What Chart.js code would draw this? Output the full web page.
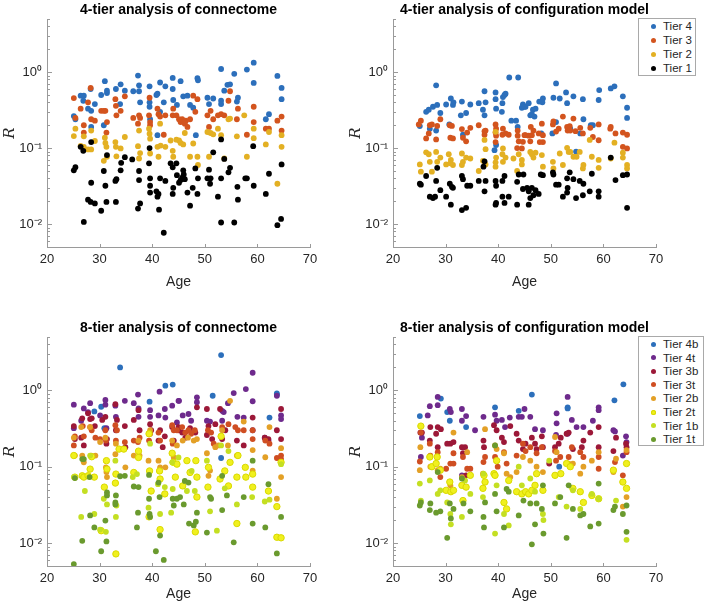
<!DOCTYPE html>
<html>
<head>
<meta charset="utf-8">
<script src="https://cdn.jsdelivr.net/npm/chart.js@4.4.0/dist/chart.umd.min.js"></script>
<style>
  body { margin: 0; background: #fff; width: 705px; height: 604px; position: relative; overflow: hidden;
         font-family: "Liberation Sans", Arial, sans-serif; }
  canvas { position: absolute; }
  .legend { position: absolute; border: 1px solid #a9a9a9; background: #fff; font-size: 11.5px; color: #262626; }
  .legend div { position: absolute; left: 0; height: 14px; line-height: 14px; white-space: nowrap; }
  .legend i { position: absolute; width: 5px; height: 5px; border-radius: 50%; left: 12px; top: 4.5px; }
  .legend span { position: absolute; left: 24px; }
</style>
</head>
<body>
<canvas id="c1" width="346" height="300" style="left:0;top:0"></canvas>
<canvas id="c2" width="359" height="300" style="left:346px;top:0"></canvas>
<canvas id="c3" width="346" height="286" style="left:0;top:318px"></canvas>
<canvas id="c4" width="359" height="286" style="left:346px;top:318px"></canvas>
<div id="leg1" class="legend" style="left:638px;top:18px;width:56px;height:56px"></div>
<div id="leg2" class="legend" style="left:638px;top:336px;width:64px;height:108px"></div>

<script>
// axis ticks
const xTicks = [20, 30, 40, 50, 60, 70];
const yTicks = [0.01, 0.1, 1];
const yTickLabels = ['10⁻²', '10⁻¹', '10⁰'];

// legends
const tiers4 = ['Tier 4', 'Tier 3', 'Tier 2', 'Tier 1'];
const tiers8 = ['Tier 4b', 'Tier 4t', 'Tier 3b', 'Tier 3t', 'Tier 2b', 'Tier 2t', 'Tier 1b', 'Tier 1t'];
const colors4 = ['#2c6fbb', '#d3541e', '#e3b023', '#000000'];
const colors8 = ['#2c6fbb', '#6e2a8c', '#9c1838', '#cf4e22', '#e3a026', '#f0f01e', '#c4df22', '#6a9a2e'];

// ---- 4-tier analysis of connectome: [age, R]
const conn4Tier4 = [[25.1,0.264],[25.4,0.24],[26.4,0.49],[27.0,0.49],[26.9,0.42],[27.8,0.33],[28.4,0.31],[28.4,0.19],[28.3,0.60],[29.1,0.38],[30.3,0.50],[31.0,0.76],[30.8,0.20],[31.4,0.53],[31.4,0.57],[33.1,0.60],[34.0,0.69],[33.9,0.38],[34.8,0.57],[36.4,0.56],[37.3,0.90],[37.5,0.67],[37.5,0.56],[37.7,0.40],[39.5,0.65],[39.5,0.40],[39.5,0.35],[39.6,0.24],[40.8,0.50],[41.0,0.52],[41.5,0.73],[41.0,0.148],[41.5,0.30],[42.2,0.40],[42.5,0.65],[43.9,0.84],[43.9,0.60],[44.0,0.43],[44.7,0.37],[45.4,0.76],[45.9,0.48],[46.7,0.49],[47.2,0.37],[47.8,0.34],[48.6,0.83],[48.7,0.78],[48.3,0.148],[50.5,0.46],[50.8,0.38],[51.6,0.45],[53.1,1.1],[53.1,0.42],[53.1,0.38],[53.7,0.57],[54.3,0.68],[54.8,0.69],[55.6,0.95],[56.1,0.41],[56.3,0.46],[58.0,1.08],[59.3,1.33],[59.3,0.72],[61.6,0.24],[62.2,0.28],[63.8,0.89],[64.6,0.62],[64.6,0.44]];
const conn4Tier3 = [[25.1,0.455],[25.4,0.25],[26.4,0.33],[27.0,0.20],[27.0,0.16],[27.8,0.40],[28.3,0.62],[28.4,0.24],[29.1,0.23],[30.3,0.31],[30.8,0.31],[31.1,0.31],[31.4,0.22],[31.3,0.16],[33.0,0.44],[33.1,0.36],[33.2,0.27],[34.0,0.31],[34.8,0.48],[36.4,0.25],[37.5,0.27],[37.7,0.25],[37.3,0.21],[39.5,0.46],[39.6,0.22],[39.6,0.20],[39.4,0.27],[41.0,0.33],[41.2,0.28],[41.5,0.26],[42.2,0.15],[42.5,0.27],[43.9,0.27],[44.0,0.33],[44.6,0.27],[45.1,0.24],[45.4,0.22],[45.7,0.24],[46.0,0.22],[46.2,0.21],[46.4,0.23],[46.7,0.19],[47.2,0.24],[47.8,0.49],[48.2,0.30],[48.6,0.44],[50.5,0.27],[50.8,0.19],[51.1,0.31],[51.6,0.24],[52.5,0.27],[53.1,0.28],[53.7,0.27],[54.5,0.42],[54.8,0.56],[56.1,0.24],[56.3,0.33],[58.0,0.15],[59.3,0.35],[59.3,0.22],[61.6,0.18],[62.2,0.18],[63.8,0.23],[64.6,0.26],[64.6,0.17]];
const conn4Tier2 = [[25.1,0.144],[25.4,0.18],[26.4,0.107],[27.0,0.143],[27.0,0.104],[28.4,0.17],[28.4,0.096],[27.8,0.096],[29.1,0.124],[30.8,0.068],[31.0,0.137],[31.1,0.117],[31.3,0.104],[31.4,0.077],[33.0,0.12],[33.1,0.104],[33.2,0.078],[34.0,0.099],[34.8,0.14],[37.3,0.106],[37.5,0.17],[37.5,0.073],[37.7,0.086],[39.4,0.18],[39.5,0.155],[39.6,0.133],[39.6,0.085],[41.0,0.104],[41.2,0.077],[41.5,0.21],[41.6,0.108],[42.5,0.104],[43.5,0.126],[43.9,0.092],[44.0,0.077],[44.6,0.129],[45.1,0.126],[45.4,0.117],[45.9,0.112],[46.2,0.158],[47.2,0.077],[47.8,0.115],[48.6,0.077],[48.7,0.06],[50.5,0.163],[50.8,0.077],[51.1,0.158],[51.6,0.152],[52.5,0.18],[53.1,0.148],[53.7,0.073],[54.5,0.24],[54.8,0.245],[56.1,0.143],[57.5,0.27],[58.0,0.077],[59.3,0.18],[59.3,0.135],[61.6,0.112],[62.2,0.163],[63.8,0.034],[64.6,0.148],[64.6,0.104]];
const conn4Tier1 = [[25.1,0.051],[25.4,0.056],[26.4,0.104],[26.9,0.092],[28.4,0.12],[28.4,0.035],[27.0,0.0107],[27.8,0.021],[28.3,0.0196],[29.1,0.0187],[30.3,0.015],[30.8,0.050],[31.1,0.032],[31.4,0.081],[31.3,0.0196],[33.0,0.037],[33.2,0.039],[33.1,0.0196],[34.1,0.064],[34.0,0.051],[34.8,0.076],[36.2,0.071],[37.3,0.016],[37.5,0.038],[37.7,0.0187],[37.5,0.050],[39.4,0.063],[39.5,0.10],[39.6,0.032],[39.6,0.026],[39.6,0.040],[40.8,0.027],[41.0,0.023],[41.2,0.025],[41.5,0.040],[41.3,0.0155],[42.2,0.0077],[42.5,0.037],[43.5,0.063],[43.9,0.056],[43.9,0.025],[44.0,0.030],[44.6,0.063],[44.7,0.044],[45.1,0.035],[45.4,0.038],[45.7,0.041],[45.9,0.051],[46.0,0.045],[46.2,0.039],[46.7,0.026],[47.2,0.0175],[47.7,0.030],[48.2,0.054],[48.6,0.025],[48.7,0.040],[50.5,0.040],[50.8,0.052],[51.0,0.034],[51.1,0.040],[51.6,0.088],[52.5,0.023],[53.1,0.13],[53.1,0.040],[53.1,0.0105],[53.7,0.072],[54.5,0.048],[54.8,0.055],[55.6,0.0105],[56.2,0.031],[56.3,0.021],[57.7,0.040],[58.0,0.040],[59.3,0.032],[59.2,0.106],[61.6,0.025],[62.2,0.046],[63.8,0.0097],[64.5,0.0117],[64.6,0.061]];

// ---- 4-tier analysis of configuration model
const conf4Tier4 = [[25.1,0.195],[26.3,0.30],[26.8,0.32],[27.6,0.35],[28.4,0.37],[28.2,0.67],[29.0,0.29],[27.0,0.18],[28.2,0.17],[30.1,0.375],[31.0,0.45],[31.4,0.37],[31.5,0.40],[30.7,0.205],[33.1,0.41],[32.9,0.27],[33.9,0.29],[33.3,0.15],[34.7,0.375],[36.3,0.39],[37.4,0.56],[37.6,0.40],[37.4,0.27],[37.1,0.32],[39.5,0.54],[39.5,0.44],[39.6,0.33],[39.3,0.094],[39.6,0.11],[40.9,0.47],[41.2,0.50],[41.4,0.52],[40.8,0.39],[40.7,0.30],[42.1,0.85],[43.8,0.85],[42.5,0.23],[43.4,0.23],[43.7,0.19],[44.7,0.375],[44.5,0.34],[45.0,0.35],[45.2,0.35],[45.8,0.39],[46.6,0.32],[47.1,0.33],[46.1,0.27],[46.4,0.28],[46.9,0.26],[47.8,0.41],[48.5,0.45],[48.4,0.40],[48.2,0.156],[51.0,0.71],[50.5,0.46],[51.7,0.45],[50.3,0.156],[51.0,0.22],[52.9,0.54],[53.1,0.39],[54.3,0.48],[53.7,0.18],[54.8,0.09],[56.1,0.44],[56.2,0.24],[55.6,0.156],[57.6,0.20],[58.0,0.20],[59.2,0.58],[59.1,0.43],[61.4,0.61],[62.1,0.65],[63.7,0.48],[64.5,0.34],[64.5,0.25]];
const conf4Tier3 = [[25.3,0.23],[24.9,0.205],[27.0,0.20],[26.8,0.156],[27.4,0.205],[28.4,0.196],[29.0,0.24],[26.3,0.134],[28.2,0.13],[30.9,0.137],[31.4,0.134],[30.8,0.20],[31.2,0.196],[33.1,0.178],[33.3,0.137],[33.9,0.123],[34.1,0.16],[34.7,0.185],[36.3,0.20],[37.4,0.167],[37.6,0.17],[37.4,0.15],[39.5,0.205],[39.6,0.18],[39.6,0.146],[40.9,0.18],[40.8,0.15],[41.4,0.156],[42.0,0.15],[39.5,0.12],[39.5,0.16],[43.7,0.17],[43.7,0.146],[43.9,0.123],[45.0,0.148],[44.7,0.121],[43.6,0.10],[44.5,0.099],[45.2,0.148],[45.8,0.146],[46.4,0.148],[46.2,0.19],[46.7,0.17],[47.7,0.156],[48.5,0.148],[48.3,0.21],[48.5,0.12],[47.9,0.12],[46.1,0.123],[50.4,0.205],[50.5,0.225],[51.5,0.18],[51.0,0.165],[52.3,0.26],[53.1,0.19],[53.2,0.17],[53.6,0.195],[53.7,0.17],[54.3,0.245],[54.7,0.167],[55.6,0.185],[56.1,0.156],[57.5,0.185],[58.0,0.14],[59.1,0.205],[59.1,0.127],[61.4,0.19],[62.3,0.156],[63.7,0.104],[64.5,0.099],[64.5,0.15],[63.7,0.16],[61.3,0.18]];
const conf4Tier2 = [[25.1,0.061],[25.3,0.049],[26.3,0.088],[26.8,0.083],[27.0,0.066],[27.4,0.049],[28.2,0.089],[28.4,0.066],[29.0,0.075],[30.1,0.061],[30.6,0.083],[31.0,0.07],[31.4,0.06],[30.9,0.063],[33.1,0.085],[33.3,0.066],[33.1,0.06],[33.9,0.075],[34.7,0.073],[36.3,0.05],[37.4,0.128],[37.6,0.097],[37.1,0.068],[37.6,0.061],[39.5,0.164],[39.6,0.075],[39.5,0.065],[39.5,0.057],[40.9,0.099],[41.4,0.075],[40.9,0.066],[40.8,0.083],[42.9,0.073],[43.9,0.083],[44.5,0.07],[44.5,0.061],[43.6,0.05],[46.1,0.089],[46.4,0.083],[46.7,0.075],[47.1,0.087],[48.3,0.081],[48.5,0.057],[50.4,0.066],[50.5,0.054],[51.7,0.085],[52.3,0.06],[53.1,0.101],[53.4,0.089],[53.7,0.089],[54.3,0.077],[54.9,0.077],[55.5,0.089],[56.1,0.054],[56.2,0.06],[57.4,0.128],[57.8,0.077],[59.1,0.07],[59.1,0.055],[61.4,0.073],[62.1,0.118],[63.7,0.087],[64.5,0.06],[64.5,0.054],[63.7,0.075]];
const conf4Tier1 = [[25.1,0.034],[25.3,0.033],[26.3,0.043],[27.0,0.023],[27.6,0.022],[28.0,0.023],[28.4,0.055],[28.2,0.037],[29.0,0.028],[30.1,0.023],[30.8,0.034],[31.2,0.031],[31.4,0.030],[31.0,0.018],[33.1,0.043],[33.3,0.039],[33.1,0.0153],[33.9,0.0164],[34.1,0.032],[34.7,0.032],[36.3,0.037],[37.4,0.067],[37.2,0.057],[37.4,0.027],[37.6,0.037],[39.5,0.037],[39.6,0.032],[39.5,0.018],[39.6,0.019],[40.8,0.037],[41.2,0.043],[41.2,0.019],[40.8,0.023],[42.0,0.023],[43.6,0.036],[43.9,0.045],[43.6,0.018],[44.7,0.029],[44.8,0.045],[45.5,0.030],[45.8,0.027],[46.4,0.030],[46.7,0.024],[46.1,0.022],[47.1,0.028],[45.8,0.018],[47.7,0.025],[48.1,0.045],[48.5,0.044],[50.4,0.048],[50.5,0.045],[51.0,0.033],[51.5,0.033],[52.3,0.023],[53.1,0.04],[53.1,0.026],[53.2,0.030],[53.6,0.048],[54.3,0.039],[54.8,0.022],[55.5,0.037],[56.1,0.024],[56.2,0.034],[57.4,0.027],[57.8,0.046],[59.1,0.027],[59.1,0.023],[61.4,0.075],[62.3,0.038],[63.7,0.044],[64.5,0.045],[64.5,0.0164]];

// ---- 8-tier analysis of connectome
const conn8Tier4b = [[33.9,2.0],[29.0,0.53],[30.3,0.61],[30.9,0.32],[39.5,0.71],[42.5,1.15],[43.9,1.19],[53.1,2.9],[51.5,0.85],[62.3,0.44],[63.7,0.91],[53.1,0.13],[63.7,0.88]];
const conn8Tier4t = [[25.1,0.65],[25.1,0.32],[27.0,0.58],[27.8,0.52],[28.2,0.68],[26.5,0.40],[30.1,0.47],[31.1,0.75],[31.1,0.65],[31.3,0.32],[33.0,0.63],[33.1,0.45],[34.8,0.73],[36.5,0.68],[37.3,0.88],[37.4,0.58],[39.6,0.55],[39.6,0.45],[41.4,0.96],[42.4,0.57],[42.5,0.44],[37.4,0.45],[41.2,0.47],[43.8,0.63],[45.0,0.73],[45.1,0.73],[48.5,0.81],[48.5,0.70],[45.8,0.47],[46.9,0.49],[44.7,0.38],[47.4,0.40],[51.0,0.39],[53.3,0.54],[53.6,0.52],[54.4,0.68],[55.5,0.92],[56.2,0.45],[57.8,1.04],[59.1,1.7],[59.1,0.72],[59.1,0.30],[61.4,0.24],[62.1,0.22],[63.7,0.85],[64.5,0.47],[64.5,0.42],[50.4,0.40],[53.3,0.40],[57.4,0.44]];
const conn8Tier3b = [[25.1,0.34],[25.3,0.23],[26.7,0.43],[27.8,0.50],[28.2,0.42],[27.0,0.19],[26.5,0.24],[28.5,0.43],[29.1,0.34],[30.5,0.41],[31.1,0.45],[31.4,0.23],[31.3,0.20],[33.0,0.66],[33.3,0.41],[33.1,0.30],[34.8,0.34],[34.9,0.18],[36.5,0.41],[37.4,0.55],[37.6,0.30],[39.6,0.36],[39.8,0.30],[41.2,0.22],[41.5,0.30],[42.0,0.18],[42.4,0.25],[43.8,0.33],[44.1,0.22],[45.0,0.30],[45.0,0.33],[45.7,0.28],[46.3,0.24],[47.2,0.32],[48.2,0.28],[48.5,0.60],[50.4,0.57],[50.7,0.34],[51.4,0.23],[52.0,0.36],[52.9,0.57],[53.3,0.23],[53.9,0.30],[56.1,0.22],[57.4,0.19],[59.1,0.44],[61.4,0.24],[62.1,0.23],[63.7,0.30],[64.5,0.57],[64.5,0.23],[50.4,0.26]];
const conn8Tier3t = [[25.3,0.25],[25.1,0.19],[27.0,0.25],[26.8,0.34],[28.2,0.33],[28.5,0.30],[29.2,0.24],[30.1,0.23],[31.2,0.22],[31.1,0.30],[33.0,0.35],[33.3,0.30],[33.1,0.22],[34.8,0.21],[36.5,0.22],[37.6,0.24],[37.3,0.21],[39.6,0.27],[39.4,0.22],[41.2,0.28],[41.5,0.22],[43.8,0.35],[44.1,0.30],[43.9,0.20],[44.7,0.30],[45.7,0.33],[46.3,0.28],[46.9,0.30],[47.4,0.27],[48.1,0.30],[50.6,0.30],[51.2,0.28],[51.7,0.20],[53.3,0.33],[54.5,0.36],[55.8,0.33],[56.3,0.30],[57.4,0.30],[59.1,0.30],[59.1,0.23],[61.5,0.22],[62.3,0.20],[63.7,0.13],[64.5,0.14],[64.5,0.126]];
const conn8Tier2b = [[25.1,0.24],[25.3,0.14],[26.5,0.33],[26.7,0.14],[27.0,0.114],[28.2,0.33],[28.4,0.14],[29.2,0.14],[30.1,0.21],[31.1,0.24],[31.2,0.098],[31.4,0.073],[31.3,0.085],[33.0,0.146],[33.1,0.20],[34.9,0.098],[36.5,0.14],[37.4,0.22],[37.6,0.14],[39.3,0.12],[39.6,0.30],[41.2,0.12],[41.5,0.098],[42.5,0.098],[43.8,0.22],[44.1,0.132],[44.7,0.19],[45.8,0.22],[46.8,0.24],[47.9,0.22],[48.5,0.23],[50.4,0.15],[50.7,0.076],[51.0,0.089],[52.0,0.18],[52.6,0.19],[54.4,0.19],[54.8,0.73],[56.1,0.14],[57.4,0.39],[59.1,0.165],[59.1,0.089],[61.5,0.133],[62.3,0.33],[63.7,0.038],[64.5,0.175],[64.5,0.073],[53.3,0.30]];
const conn8Tier2t = [[25.1,0.14],[25.3,0.073],[26.7,0.076],[27.0,0.073],[27.8,0.076],[28.2,0.093],[28.5,0.135],[29.0,0.073],[31.3,0.12],[31.4,0.093],[30.9,0.054],[30.3,0.0145],[33.1,0.08],[33.0,0.061],[33.7,0.17],[34.6,0.17],[33.1,0.0072],[36.5,0.084],[37.4,0.132],[37.4,0.16],[39.4,0.27],[39.5,0.088],[39.4,0.022],[39.8,0.048],[41.4,0.088],[41.5,0.069],[43.8,0.15],[44.0,0.114],[44.7,0.108],[42.4,0.044],[41.5,0.015],[44.4,0.073],[45.8,0.056],[47.2,0.084],[48.3,0.12],[48.5,0.073],[48.5,0.04],[46.6,0.12],[48.2,0.014],[50.6,0.054],[50.7,0.098],[52.9,0.069],[53.1,0.25],[53.8,0.088],[54.5,0.056],[54.8,0.114],[56.3,0.14],[56.1,0.018],[57.7,0.098],[57.8,0.073],[59.1,0.08],[59.1,0.054],[62.1,0.048],[63.7,0.030],[63.7,0.0119],[64.5,0.0117],[64.5,0.114],[56.1,0.073]];
const conn8Tier1b = [[25.1,0.073],[26.5,0.022],[27.2,0.048],[28.2,0.14],[29.0,0.024],[30.1,0.015],[31.4,0.032],[31.2,0.014],[30.8,0.038],[33.0,0.12],[33.2,0.031],[33.1,0.022],[37.1,0.08],[36.3,0.073],[39.3,0.029],[39.6,0.20],[41.1,0.059],[41.5,0.024],[42.4,0.054],[43.8,0.114],[43.9,0.051],[43.6,0.025],[45.0,0.132],[46.6,0.048],[47.5,0.088],[48.1,0.048],[51.0,0.026],[52.3,0.0145],[53.1,0.19],[54.5,0.16],[53.8,0.052],[56.1,0.032],[59.0,0.04],[61.4,0.035],[62.3,0.037],[64.5,0.108],[50.4,0.12]];
const conn8Tier1t = [[25.1,0.0053],[25.3,0.071],[26.7,0.126],[26.7,0.0107],[27.0,0.126],[28.2,0.023],[28.1,0.073],[29.0,0.016],[30.3,0.0078],[31.1,0.0197],[31.3,0.0105],[31.4,0.046],[31.4,0.042],[33.0,0.034],[33.0,0.032],[33.1,0.042],[33.9,0.075],[34.8,0.076],[36.5,0.055],[37.3,0.025],[37.1,0.016],[37.4,0.054],[39.4,0.078],[39.4,0.038],[39.5,0.024],[39.6,0.022],[41.4,0.04],[41.5,0.0125],[41.2,0.062],[40.7,0.0078],[42.2,0.006],[43.9,0.038],[44.1,0.031],[44.7,0.038],[45.3,0.04],[46.2,0.065],[46.0,0.032],[46.9,0.062],[47.9,0.017],[47.0,0.018],[48.5,0.025],[48.3,0.019],[50.4,0.0137],[51.0,0.04],[51.2,0.038],[53.3,0.076],[53.3,0.027],[54.2,0.042],[55.5,0.0102],[57.4,0.04],[59.1,0.12],[59.1,0.018],[61.5,0.016],[62.1,0.059],[64.5,0.022],[63.7,0.0073]];

// ---- 8-tier analysis of configuration model
const conf8Tier4b = [[25.1,0.46],[29.1,0.78],[30.3,0.52],[30.8,0.40],[33.9,0.33],[39.4,0.60],[43.9,0.54],[46.4,0.88],[53.2,0.60],[53.2,0.58],[51.6,0.10],[62.1,0.74],[63.8,1.2]];
const conf8Tier4t = [[25.3,0.134],[25.5,0.24],[26.6,0.47],[27.0,0.62],[28.5,0.82],[28.5,0.64],[30.8,0.57],[31.0,0.52],[33.1,0.57],[33.1,0.40],[33.9,0.46],[33.1,0.077],[35.6,0.30],[37.2,0.45],[39.4,0.48],[39.7,0.40],[40.7,0.41],[41.3,0.33],[42.2,0.44],[43.9,0.45],[44.5,0.45],[45.0,0.57],[46.1,0.45],[47.0,0.31],[48.5,0.30],[51.0,0.26],[51.1,0.37],[51.1,0.50],[53.2,0.82],[53.2,0.27],[54.0,0.41],[54.9,0.33],[56.2,0.33],[58.0,0.40],[59.1,0.60],[59.1,0.55],[61.9,0.30],[62.2,0.29],[63.7,0.14],[64.4,0.21],[64.3,0.25]];
const conf8Tier3b = [[25.2,0.28],[25.5,0.28],[27.1,0.33],[27.0,0.22],[28.5,0.33],[28.2,0.27],[29.1,0.31],[28.5,0.18],[30.3,0.20],[30.9,0.20],[31.5,0.21],[33.1,0.18],[33.3,0.15],[33.7,0.18],[33.9,0.077],[37.2,0.22],[37.3,0.18],[39.2,0.35],[39.7,0.30],[40.7,0.24],[41.1,0.21],[42.3,0.34],[43.5,0.27],[43.9,0.22],[44.7,0.17],[45.2,0.20],[46.4,0.24],[47.0,0.20],[47.3,0.17],[48.3,0.25],[48.5,0.18],[49.7,0.11],[50.8,0.18],[51.5,0.20],[51.9,0.24],[53.0,0.27],[53.4,0.28],[54.2,0.17],[55.9,0.18],[56.2,0.22],[57.5,0.28],[59.1,0.33],[59.1,0.18],[61.9,0.16],[62.4,0.24],[64.3,0.20],[64.4,0.18]];
const conf8Tier3t = [[25.3,0.28],[25.1,0.117],[27.0,0.20],[27.1,0.14],[28.5,0.155],[29.0,0.073],[30.1,0.094],[30.9,0.11],[31.5,0.15],[31.5,0.11],[33.3,0.134],[34.1,0.094],[34.7,0.094],[37.2,0.115],[37.5,0.134],[39.4,0.134],[39.9,0.10],[41.1,0.155],[41.6,0.11],[43.5,0.14],[44.7,0.20],[45.2,0.16],[46.1,0.18],[47.3,0.15],[48.3,0.18],[50.8,0.16],[51.0,0.12],[51.8,0.134],[53.4,0.134],[54.0,0.18],[55.6,0.155],[56.2,0.134],[59.1,0.134],[59.1,0.094],[62.2,0.115],[63.7,0.077],[64.4,0.155]];
const conf8Tier2b = [[25.2,0.18],[25.1,0.09],[27.1,0.10],[28.5,0.09],[29.0,0.094],[31.5,0.28],[30.9,0.057],[33.1,0.073],[34.1,0.155],[37.1,0.081],[37.5,0.31],[39.4,0.19],[39.7,0.17],[41.1,0.15],[41.6,0.081],[42.3,0.073],[43.5,0.085],[44.7,0.134],[46.1,0.12],[47.3,0.10],[48.5,0.085],[50.8,0.245],[51.1,0.155],[53.4,0.11],[54.2,0.11],[55.6,0.081],[56.2,0.10],[57.8,0.12],[59.1,0.155],[61.9,0.085],[62.4,0.127],[63.7,0.03],[64.4,0.04],[64.4,0.165]];
const conf8Tier2t = [[25.3,0.34],[27.0,0.134],[27.4,0.10],[28.2,0.11],[29.0,0.09],[28.4,0.134],[30.1,0.049],[30.8,0.063],[31.0,0.047],[31.5,0.049],[33.1,0.057],[33.3,0.036],[33.9,0.054],[34.7,0.077],[37.1,0.052],[37.3,0.077],[37.5,0.063],[39.2,0.081],[39.4,0.077],[39.7,0.12],[41.1,0.034],[41.6,0.028],[42.0,0.066],[43.5,0.047],[44.5,0.044],[45.2,0.047],[45.8,0.044],[46.4,0.049],[47.0,0.057],[47.3,0.081],[48.5,0.049],[50.8,0.077],[51.9,0.081],[53.0,0.11],[53.7,0.10],[54.2,0.052],[55.6,0.047],[56.2,0.034],[57.8,0.042],[59.1,0.038],[61.9,0.09],[63.7,0.063],[64.4,0.052],[64.4,0.11]];
const conf8Tier1b = [[25.1,0.06],[25.3,0.036],[27.0,0.066],[28.5,0.044],[29.0,0.049],[30.3,0.034],[30.9,0.024],[31.0,0.0176],[33.1,0.022],[33.7,0.066],[34.7,0.044],[37.1,0.04],[37.2,0.081],[39.4,0.0133],[39.7,0.057],[41.1,0.024],[42.0,0.017],[43.9,0.10],[44.5,0.057],[46.1,0.07],[47.0,0.047],[48.5,0.024],[48.6,0.02],[49.7,0.12],[51.5,0.04],[53.0,0.03],[54.2,0.049],[55.6,0.028],[57.8,0.044],[59.1,0.038],[62.4,0.036],[64.4,0.011]];
const conf8Tier1t = [[25.1,0.031],[25.3,0.034],[27.0,0.027],[27.1,0.033],[28.2,0.025],[28.5,0.085],[29.0,0.026],[30.3,0.0117],[30.8,0.033],[31.0,0.021],[31.5,0.028],[33.1,0.07],[33.4,0.033],[34.7,0.026],[37.2,0.022],[37.3,0.016],[37.5,0.034],[39.4,0.19],[39.4,0.044],[39.7,0.026],[41.1,0.016],[41.6,0.051],[42.0,0.047],[43.9,0.023],[44.8,0.036],[46.1,0.033],[46.4,0.0096],[47.0,0.0176],[47.3,0.033],[48.3,0.028],[48.6,0.0133],[48.5,0.057],[50.8,0.033],[51.8,0.04],[53.0,0.0117],[53.4,0.057],[54.2,0.028],[55.6,0.023],[56.2,0.024],[57.5,0.0165],[59.1,0.018],[59.1,0.06],[61.9,0.027],[62.2,0.030],[63.7,0.024],[64.4,0.014],[64.4,0.031]];

const axisColor = '#9a9a9a';
const textColor = '#262626';
const sans = '"Liberation Sans", Arial, Helvetica, sans-serif';

// MATLAB-style ticks pointing into the axes, with log minor ticks
const inwardTicks = {
  id: 'inwardTicks',
  afterDraw(chart) {
    const { ctx, chartArea: a, scales: { x, y } } = chart;
    ctx.save();
    ctx.strokeStyle = axisColor;
    ctx.lineWidth = 1;
    ctx.beginPath();
    xTicks.forEach(v => {
      const px = Math.round(x.getPixelForValue(v)) + 0.5;
      ctx.moveTo(px, a.bottom);
      ctx.lineTo(px, a.bottom - 3);
    });
    for (let d = -3; d <= 0; d++) {
      for (let m = 1; m <= 9; m++) {
        const v = m * Math.pow(10, d);
        if (v < y.min || v > y.max) continue;
        const py = Math.round(y.getPixelForValue(v)) + 0.5;
        ctx.moveTo(a.left, py);
        ctx.lineTo(a.left + (m === 1 ? 5 : 3), py);
      }
    }
    ctx.stroke();
    ctx.restore();
  }
};

function makePanel(id, title, series, labels, colors, xHeight, ageGap) {
  const n = series.length;
  const datasets = series.map((pts, i) => {
    const yellowRing = colors[i] === '#f0f01e';
    return {
      label: labels[i],
      data: pts.map(([age, r]) => ({ x: age, y: r })),
      backgroundColor: colors[i],
      borderColor: yellowRing ? '#d9d900' : colors[i],
      borderWidth: yellowRing ? 1 : 0,
      pointRadius: yellowRing ? 3.2 : 2.9,
      order: n - i
    };
  });

  return new Chart(document.getElementById(id), {
    type: 'scatter',
    data: { datasets },
    plugins: [inwardTicks],
    options: {
      responsive: false,
      animation: false,
      events: [],
      layout: { padding: { left: 0, right: id === 'c1' || id === 'c3' ? 36 : 49, top: 0, bottom: 0 } },
      plugins: {
        legend: { display: false },
        tooltip: { enabled: false },
        title: {
          display: true,
          text: title,
          fullSize: false,
          color: '#000',
          font: { family: sans, size: 14, weight: 'bold', lineHeight: 1.2 },
          padding: { top: 2, bottom: 0.2 }
        }
      },
      scales: {
        x: {
          type: 'linear',
          min: 20,
          max: 70,
          afterFit: s => { s.height = xHeight; },
          afterBuildTicks: s => { s.ticks = xTicks.map(v => ({ value: v })); },
          grid: { drawOnChartArea: false, drawTicks: false },
          border: { color: axisColor, width: 1 },
          ticks: { color: textColor, font: { family: sans, size: 13 }, padding: 5, maxRotation: 0 },
          title: { display: true, text: 'Age', color: textColor,
                   font: { family: sans, size: 14 }, padding: { top: 0, bottom: ageGap } }
        },
        y: {
          type: 'logarithmic',
          min: 0.005,
          max: 5,
          afterFit: s => { s.width = 47; },
          afterBuildTicks: s => { s.ticks = yTicks.map(v => ({ value: v })); },
          grid: { drawOnChartArea: false, drawTicks: false },
          border: { color: axisColor, width: 1 },
          ticks: {
            color: textColor,
            font: { family: sans, size: 13 },
            padding: 5,
            autoSkip: false,
            callback: v => yTickLabels[yTicks.indexOf(v)] ?? ''
          },
          title: { display: true, text: 'R', color: textColor,
                   font: { family: '"DejaVu Serif", "Liberation Serif", serif', size: 15, style: 'italic' },
                   padding: { top: 1.5, bottom: 0 } }
        }
      }
    }
  });
}

makePanel('c1', '4-tier analysis of connectome',
  [conn4Tier4, conn4Tier3, conn4Tier2, conn4Tier1], tiers4, colors4, 53, 9.6);
makePanel('c2', '4-tier analysis of configuration model',
  [conf4Tier4, conf4Tier3, conf4Tier2, conf4Tier1], tiers4, colors4, 53, 9.6);
makePanel('c3', '8-tier analysis of connectome',
  [conn8Tier4b, conn8Tier4t, conn8Tier3b, conn8Tier3t, conn8Tier2b, conn8Tier2t, conn8Tier1b, conn8Tier1t],
  tiers8, colors8, 38, 1.6);
makePanel('c4', '8-tier analysis of configuration model',
  [conf8Tier4b, conf8Tier4t, conf8Tier3b, conf8Tier3t, conf8Tier2b, conf8Tier2t, conf8Tier1b, conf8Tier1t],
  tiers8, colors8, 38, 1.6);

// boxed legends, like the MATLAB ones
function fillLegend(id, labels, colors, firstRow, step) {
  const box = document.getElementById(id);
  labels.forEach((label, i) => {
    const row = document.createElement('div');
    row.style.top = (firstRow + i * step - 7) + 'px';
    const dot = document.createElement('i');
    dot.style.background = colors[i];
    if (colors[i] === '#f0f01e') dot.style.boxShadow = '0 0 0 1px #d9d900 inset';
    const text = document.createElement('span');
    text.textContent = label;
    row.appendChild(dot);
    row.appendChild(text);
    box.appendChild(row);
  });
}
fillLegend('leg1', tiers4, colors4, 7, 14);
fillLegend('leg2', tiers8, colors8, 7, 13.6);
</script>
</body>
</html>
